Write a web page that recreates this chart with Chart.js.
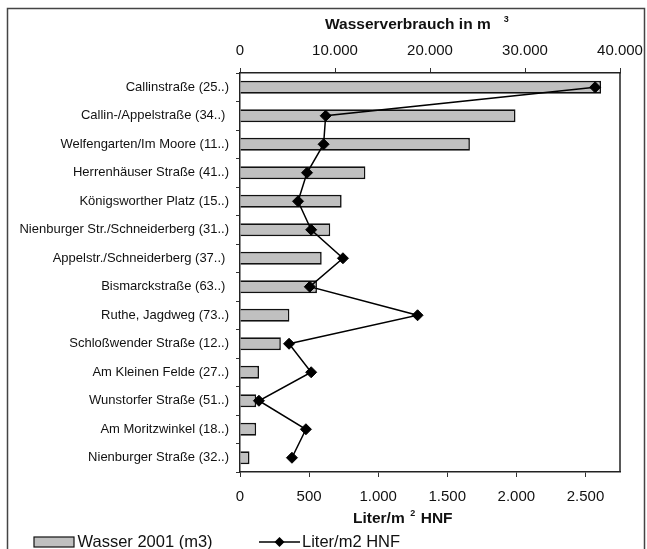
<!DOCTYPE html>
<html>
<head>
<meta charset="utf-8">
<script src="https://cdn.jsdelivr.net/npm/chart.js@4/dist/chart.umd.min.js"></script>
<style>
  html, body { margin: 0; padding: 0; background: #fff; }
  canvas { display: block; }
</style>
</head>
<body>
<canvas id="chart" width="647" height="549"></canvas>
<script>
// Locations (project number in brackets)
const standorte = [
  'Callinstraße (25..)',
  'Callin-/Appelstraße (34..) ',
  'Welfengarten/Im Moore (11..)',
  'Herrenhäuser Straße (41..)',
  'Königsworther Platz (15..)',
  'Nienburger Str./Schneiderberg (31..)',
  'Appelstr./Schneiderberg (37..) ',
  'Bismarckstraße (63..) ',
  'Ruthe, Jagdweg (73..)',
  'Schloßwender Straße (12..)',
  'Am Kleinen Felde (27..)',
  'Wunstorfer Straße (51..)',
  'Am Moritzwinkel (18..)',
  'Nienburger Straße (32..)'
];

// Water consumption 2001 in m³
const wasser2001 = [38000, 29000, 24200, 13200, 10700, 9500, 8600, 8100, 5200, 4300, 2000, 1700, 1700, 1000];

// Litres per m² HNF
const literProM2 = [2570, 620, 605, 485, 420, 515, 745, 505, 1285, 355, 515, 137, 477, 376];

// Axis ticks
const wasserTickValues = [0, 10000, 20000, 30000, 40000];
const wasserTickLabels = ['0', '10.000', '20.000', '30.000', '40.000'];
const literTickValues = [0, 500, 1000, 1500, 2000, 2500];
const literTickLabels = ['0', '500', '1.000', '1.500', '2.000', '2.500'];

const FONT = "'Liberation Sans', Arial, Helvetica, sans-serif";
Chart.defaults.font.family = FONT;
Chart.defaults.color = '#111';

const BAR_FILL = '#c0c0c0';
const INK = '#111';

// Frame, plot border, axis titles with superscripts and the legend
const decorations = {
  id: 'decorations',
  afterDraw(chart) {
    const ctx = chart.ctx;
    const a = chart.chartArea;
    ctx.save();

    // outer frame
    ctx.strokeStyle = '#444';
    ctx.lineWidth = 1.5;
    ctx.strokeRect(7.5, 8.5, 637, 600);

    // right edge of the plot area
    ctx.strokeStyle = '#222';
    ctx.lineWidth = 1.5;
    ctx.beginPath();
    ctx.moveTo(a.right, a.top);
    ctx.lineTo(a.right, a.bottom);
    ctx.stroke();

    ctx.fillStyle = INK;
    ctx.textBaseline = 'alphabetic';
    ctx.textAlign = 'left';

    // top axis title: Wasserverbrauch in m³
    let x = a.left + 85;
    ctx.font = 'bold 15.5px ' + FONT;
    ctx.fillText('Wasserverbrauch in m', x, a.top - 44);
    x += ctx.measureText('Wasserverbrauch in m').width + 13;
    ctx.font = 'bold 9px ' + FONT;
    ctx.fillText('3', x, a.top - 51.5);

    // bottom axis title: Liter/m² HNF
    x = a.left + 113;
    ctx.font = 'bold 15.5px ' + FONT;
    ctx.fillText('Liter/m', x, a.bottom + 50.5);
    x += ctx.measureText('Liter/m').width + 5.5;
    ctx.font = 'bold 9px ' + FONT;
    ctx.fillText('2', x, a.bottom + 43.5);
    x += ctx.measureText('2').width + 5.5;
    ctx.font = 'bold 15.5px ' + FONT;
    ctx.fillText('HNF', x, a.bottom + 50.5);

    // legend
    const ds = chart.data.datasets;
    const barDs = ds.find(d => d.type === 'bar');
    const lineDs = ds.find(d => d.type === 'line');
    const ly = 542;
    ctx.font = '16.5px ' + FONT;

    ctx.fillStyle = barDs.backgroundColor;
    ctx.fillRect(34, ly - 5, 40, 10);
    ctx.strokeStyle = INK;
    ctx.lineWidth = 1.2;
    ctx.strokeRect(34, ly - 5, 40, 10);
    ctx.fillStyle = INK;
    ctx.fillText(barDs.label, 77.5, 546.7);

    ctx.strokeStyle = lineDs.borderColor;
    ctx.lineWidth = 1.5;
    ctx.beginPath();
    ctx.moveTo(259, ly);
    ctx.lineTo(300, ly);
    ctx.stroke();
    ctx.fillStyle = lineDs.pointBackgroundColor;
    ctx.beginPath();
    ctx.moveTo(279.5, ly - 5);
    ctx.lineTo(284.5, ly);
    ctx.lineTo(279.5, ly + 5);
    ctx.lineTo(274.5, ly);
    ctx.closePath();
    ctx.fill();
    ctx.fillStyle = INK;
    ctx.fillText(lineDs.label, 302, 546.7);

    ctx.restore();
  }
};

function fixedTicks(values) {
  return scale => { scale.ticks = values.map(v => ({ value: v })); };
}

function fixHeight(h) {
  return s => {
    s.height = h;
    s.paddingLeft = 0;
    s.paddingRight = 0;
  };
}

new Chart(document.getElementById('chart'), {
  data: {
    labels: standorte,
    datasets: [
      {
        type: 'line',
        label: 'Liter/m2 HNF',
        data: literProM2,
        xAxisID: 'xLiter',
        yAxisID: 'y',
        order: 0,
        borderColor: '#000',
        borderWidth: 1.5,
        tension: 0,
        fill: false,
        pointStyle: 'rectRot',
        pointRadius: 5.5,
        pointBackgroundColor: '#000',
        pointBorderColor: '#000',
        pointBorderWidth: 1
      },
      {
        type: 'bar',
        label: 'Wasser 2001 (m3)',
        data: wasser2001,
        xAxisID: 'xWasser',
        yAxisID: 'y',
        order: 1,
        backgroundColor: BAR_FILL,
        borderColor: INK,
        borderWidth: 1.6,
        barPercentage: 0.45,
        categoryPercentage: 1
      }
    ]
  },
  options: {
    indexAxis: 'y',
    responsive: false,
    animation: false,
    events: [],
    layout: { padding: { left: 0, right: 27, top: 0, bottom: 0 } },
    plugins: {
      legend: { display: false },
      tooltip: { enabled: false },
      title: { display: false }
    },
    scales: {
      y: {
        type: 'category',
        position: 'left',
        offset: true,
        grid: {
          offset: true,
          drawOnChartArea: false,
          tickLength: 4,
          color: '#333',
          lineWidth: 1
        },
        border: { display: true, color: '#222', width: 1.5 },
        ticks: { font: { size: 13 }, color: INK, padding: 7, autoSkip: false },
        afterFit: s => { s.width = 240; s.paddingTop = 0; s.paddingBottom = 0; }
      },
      xWasser: {
        type: 'linear',
        position: 'top',
        min: 0,
        max: 40000,
        afterBuildTicks: fixedTicks(wasserTickValues),
        grid: { drawOnChartArea: false, tickLength: 5, color: '#333', lineWidth: 1 },
        border: { display: true, color: '#222', width: 1.5 },
        ticks: {
          font: { size: 15 },
          color: INK,
          padding: 8,
          maxRotation: 0,
          callback: (v, i) => wasserTickLabels[i]
        },
        afterFit: fixHeight(73)
      },
      xLiter: {
        type: 'linear',
        position: 'bottom',
        min: 0,
        max: 2750,
        afterBuildTicks: fixedTicks(literTickValues),
        grid: { drawOnChartArea: false, tickLength: 5, color: '#333', lineWidth: 1 },
        border: { display: true, color: '#222', width: 1.5 },
        ticks: {
          font: { size: 15 },
          color: INK,
          padding: 11,
          maxRotation: 0,
          callback: (v, i) => literTickLabels[i]
        },
        afterFit: fixHeight(77)
      }
    }
  },
  plugins: [decorations]
});
</script>
</body>
</html>
